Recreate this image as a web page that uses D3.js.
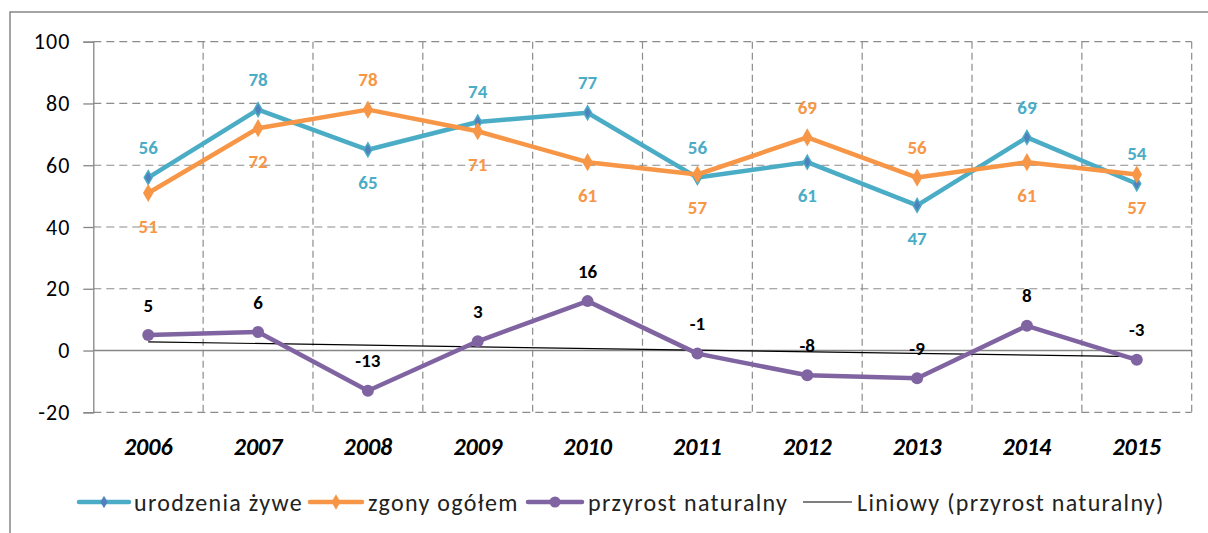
<!DOCTYPE html>
<html>
<head>
<meta charset="utf-8">
<script src="https://cdn.jsdelivr.net/npm/d3@7/dist/d3.min.js"></script>
<style>
  html, body { margin: 0; padding: 0; background: #fff; }
  svg { display: block; font-family: Carlito, Lato, "Liberation Sans", sans-serif; }
</style>
</head>
<body>
<svg id="chart" width="1208" height="533"></svg>
<script>
// Years on the category axis
const years = ["2006", "2007", "2008", "2009", "2010", "2011", "2012", "2013", "2014", "2015"];
// Live births
const births = [56, 78, 65, 74, 77, 56, 61, 47, 69, 54];
// Deaths total
const deaths = [51, 72, 78, 71, 61, 57, 69, 56, 61, 57];
// Natural increase
const increase = [5, 6, -13, 3, 16, -1, -8, -9, 8, -3];
// Whether the births label sits above its point (deaths label goes on the other side)
const birthsLabelAbove = [true, true, false, true, true, true, false, false, true, true];
// Value axis ticks
const yTicks = [-20, 0, 20, 40, 60, 80, 100];

const seriesNames = ["urodzenia żywe", "zgony ogółem", "przyrost naturalny", "Liniowy (przyrost naturalny)"];

const C_BLUE = "#4BACC6", C_BLUE_DARK = "#4F81BD", C_ORANGE = "#F79646", C_PURPLE = "#8064A2";
const GRID = "#8c8c8c";

const svg = d3.select("#chart");
const plot = { left: 93.3, right: 1191.7, top: 41.7, bottom: 412.3 };

const x = d3.scaleBand().domain(years).range([plot.left, plot.right]).padding(0);
const xc = d => x(d) + x.bandwidth() / 2;
const y = d3.scaleLinear().domain([-20, 100]).range([plot.bottom, plot.top]);

// Outer chart border
svg.append("rect")
  .attr("x", 10).attr("y", 12).attr("width", 1400).attr("height", 700)
  .attr("fill", "none").attr("stroke", "#878787").attr("stroke-width", 1.5);

// Horizontal dashed gridlines (zero gets a solid axis line)
svg.append("g").selectAll("line")
  .data(yTicks.filter(t => t !== 0))
  .join("line")
  .attr("x1", plot.left).attr("x2", plot.right)
  .attr("y1", d => y(d)).attr("y2", d => y(d))
  .attr("stroke", GRID).attr("stroke-width", 1.2).attr("stroke-dasharray", "8,5");

// Vertical dashed gridlines at category boundaries
const bounds = years.map(yr => x(yr) + x.bandwidth());
svg.append("g").selectAll("line")
  .data(bounds)
  .join("line")
  .attr("x1", d => d).attr("x2", d => d)
  .attr("y1", plot.top).attr("y2", plot.bottom)
  .attr("stroke", GRID).attr("stroke-width", 1.2).attr("stroke-dasharray", "7,4");

// Value axis
const yAxis = d3.axisLeft(y).tickValues(yTicks).tickSize(10).tickPadding(13)
  .tickFormat(d => String(d));
const yG = svg.append("g").attr("transform", `translate(${plot.left},0)`).call(yAxis);
yG.select(".domain").attr("stroke", "#868686").attr("stroke-width", 1.3);
yG.selectAll(".tick line").attr("stroke", "#868686").attr("stroke-width", 1.3);
yG.selectAll(".tick text")
  .attr("font-size", 22).attr("fill", "#000").attr("letter-spacing", 1)
  .attr("font-family", "Carlito, Lato, sans-serif");

// Category axis line along zero
svg.append("line")
  .attr("x1", plot.left).attr("x2", plot.right)
  .attr("y1", y(0)).attr("y2", y(0))
  .attr("stroke", "#868686").attr("stroke-width", 1.6);

// Category labels
svg.append("g").selectAll("text")
  .data(years)
  .join("text")
  .attr("x", d => xc(d)).attr("y", 446)
  .attr("text-anchor", "middle").attr("dominant-baseline", "central")
  .attr("font-size", 24).attr("font-weight", "bold").attr("font-style", "italic")
  .attr("fill", "#000")
  .text(d => d);

// Linear trendline for natural increase (least squares)
const n = increase.length;
const mx = d3.mean(d3.range(n)), my = d3.mean(increase);
const slope = d3.sum(d3.range(n), i => (i - mx) * (increase[i] - my)) /
              d3.sum(d3.range(n), i => (i - mx) * (i - mx));
const icpt = my - slope * mx;
svg.append("line")
  .attr("x1", xc(years[0])).attr("y1", y(icpt))
  .attr("x2", xc(years[n - 1])).attr("y2", y(icpt + slope * (n - 1)))
  .attr("stroke", "#000").attr("stroke-width", 1.2);

const line = d3.line().x((d, i) => xc(years[i])).y(d => y(d));

function drawSeries(values, color, width) {
  svg.append("path")
    .datum(values)
    .attr("d", line)
    .attr("fill", "none").attr("stroke", color)
    .attr("stroke-width", width).attr("stroke-linejoin", "round").attr("stroke-linecap", "round");
}

drawSeries(births, C_BLUE, 4.5);
drawSeries(deaths, C_ORANGE, 4.5);
drawSeries(increase, C_PURPLE, 4.5);

// Markers
svg.append("g").selectAll("path")
  .data(births)
  .join("path")
  .attr("transform", (d, i) => `translate(${xc(years[i])},${y(d)})`)
  .attr("d", d3.symbol(d3.symbolDiamond, 55))
  .attr("fill", C_BLUE_DARK).attr("stroke", C_BLUE).attr("stroke-width", 1.5);

svg.append("g").selectAll("path")
  .data(deaths)
  .join("path")
  .attr("transform", (d, i) => `translate(${xc(years[i])},${y(d)})`)
  .attr("d", d3.symbol(d3.symbolDiamond, 95))
  .attr("fill", C_ORANGE);

svg.append("g").selectAll("circle")
  .data(increase)
  .join("circle")
  .attr("cx", (d, i) => xc(years[i])).attr("cy", d => y(d))
  .attr("r", 6).attr("fill", C_PURPLE);

// Data labels
function labels(values, color, aboveFn) {
  svg.append("g").selectAll("text")
    .data(values)
    .join("text")
    .attr("x", (d, i) => xc(years[i]))
    .attr("y", (d, i) => y(d) + (aboveFn(i) ? -30 : 33))
    .attr("text-anchor", "middle").attr("dominant-baseline", "central")
    .attr("font-size", 19).attr("font-weight", "bold")
    .attr("fill", color)
    .text(d => d);
}
labels(births, C_BLUE, i => birthsLabelAbove[i]);
labels(deaths, C_ORANGE, i => !birthsLabelAbove[i]);
labels(increase, "#000", () => true);

// Legend
const legendY = 502;
const legendItems = [
  { name: seriesNames[0], color: C_BLUE, x0: 79, x1: 129, marker: "bdiamond", tx: 134 },
  { name: seriesNames[1], color: C_ORANGE, x0: 310, x1: 362, marker: "odiamond", tx: 368 },
  { name: seriesNames[2], color: C_PURPLE, x0: 528, x1: 582, marker: "circle", tx: 588 },
  { name: seriesNames[3], color: "#000", x0: 803, x1: 852, marker: null, tx: 857 }
];
const lg = svg.append("g");
legendItems.forEach(it => {
  const g = lg.append("g");
  g.append("line")
    .attr("x1", it.x0).attr("x2", it.x1).attr("y1", legendY).attr("y2", legendY)
    .attr("stroke", it.color).attr("stroke-width", it.marker ? 4.5 : 1.2)
    .attr("stroke-linecap", it.marker ? "round" : "butt");
  const mx2 = (it.x0 + it.x1) / 2;
  if (it.marker === "bdiamond") {
    g.append("path").attr("transform", `translate(${mx2},${legendY})`)
      .attr("d", d3.symbol(d3.symbolDiamond, 45)).attr("fill", C_BLUE_DARK);
  } else if (it.marker === "odiamond") {
    g.append("path").attr("transform", `translate(${mx2},${legendY})`)
      .attr("d", d3.symbol(d3.symbolDiamond, 70)).attr("fill", C_ORANGE);
  } else if (it.marker === "circle") {
    g.append("circle").attr("cx", mx2).attr("cy", legendY).attr("r", 5.5).attr("fill", C_PURPLE);
  }
  g.append("text")
    .attr("x", it.tx).attr("y", legendY)
    .attr("dominant-baseline", "central")
    .attr("font-size", 24).attr("letter-spacing", 1.3).attr("fill", "#222")
    .text(it.name);
});
</script>
</body>
</html>
